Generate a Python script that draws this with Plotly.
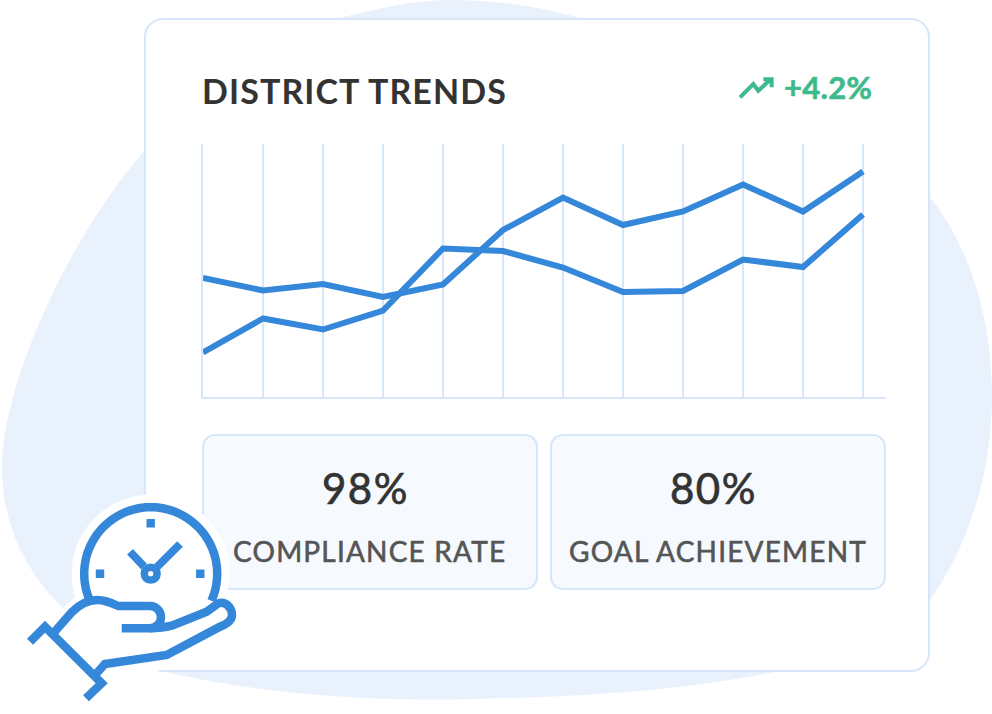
import math
import re
import plotly.graph_objects as go

W, H = 992, 714

# ---- data ----
periods = list(range(12))
series_a = [119.5, 107, 113.5, 100.5, 113, 167.5, 200, 172.5, 186, 213, 186, 226]
series_b = [45, 79, 68, 87, 149, 146.5, 130, 105.5, 106.5, 138, 130.5, 183]
headline = "DISTRICT TRENDS"
change_label = "+4.2%"
kpi_values = ["98%", "80%"]
kpi_labels = ["COMPLIANCE RATE", "GOAL ACHIEVEMENT"]

# ---- colours ----
BLUE = "#3487d9"
BLOB = "#e9f2fc"
EDGE = "#d7e6f8"
PANEL = "#f6fafe"
GREEN = "#3cba8c"
DARK = "#333333"
GREY = "#555555"


def P(d):
    """Convert a path written in page pixels to paper coordinates."""
    toks = re.findall(r"[MLCQZ]|-?\d+\.?\d*", d)
    out, is_x = [], True
    for t in toks:
        if t in "MLCQZ":
            out.append(t)
            is_x = True
        elif is_x:
            out.append(f"{float(t)/W:.5f}")
            is_x = False
        else:
            out.append(f"{1-float(t)/H:.5f}")
            is_x = True
    s, i = "", 0
    while i < len(out):
        if out[i] in "MLCQZ":
            s += out[i]
            i += 1
        else:
            s += f"{out[i]},{out[i+1]} "
            i += 2
    return s.strip()


def rrect(x0, y0, x1, y1, r):
    k = r * 0.45
    return (f"M {x0+r} {y0} L {x1-r} {y0} C {x1-k} {y0} {x1} {y0+k} {x1} {y0+r} "
            f"L {x1} {y1-r} C {x1} {y1-k} {x1-k} {y1} {x1-r} {y1} "
            f"L {x0+r} {y1} C {x0+k} {y1} {x0} {y1-k} {x0} {y1-r} "
            f"L {x0} {y0+r} C {x0} {y0+k} {x0+k} {y0} {x0+r} {y0} Z")


def circle(cx, cy, r):
    k = r * 0.5523
    return (f"M {cx+r} {cy} C {cx+r} {cy+k} {cx+k} {cy+r} {cx} {cy+r} "
            f"C {cx-k} {cy+r} {cx-r} {cy+k} {cx-r} {cy} "
            f"C {cx-r} {cy-k} {cx-k} {cy-r} {cx} {cy-r} "
            f"C {cx+k} {cy-r} {cx+r} {cy-k} {cx+r} {cy} Z")


def arc(cx, cy, r, a0, a1, n=40):
    pts = []
    for i in range(n + 1):
        a = math.radians(a0 + (a1 - a0) * i / n)
        pts.append((cx + r * math.cos(a), cy + r * math.sin(a)))
    return f"M {pts[0][0]:.2f} {pts[0][1]:.2f} " + " ".join(f"L {x:.2f} {y:.2f}" for x, y in pts[1:])


shapes = []


def add(d, fill=None, line=None, width=0, layer="below"):
    s = dict(type="path", xref="paper", yref="paper", path=P(d), layer=layer,
             line=dict(color=line or "rgba(0,0,0,0)", width=width))
    if fill:
        s["fillcolor"] = fill
    shapes.append(s)


# backdrop
add("M 450 0 C 500 0 545 8 580 18 C 700 50 860 110 928 195 C 970 245 992 320 992 395 "
    "C 992 480 965 550 930 600 C 890 640 830 662 783 670 C 700 688 600 696 500 698 "
    "C 420 702 280 700 157 670 C 120 655 88 635 60 605 C 30 575 2 530 2 467 "
    "C 2 385 68 238 145 150 C 200 90 270 38 340 18 C 380 8 415 0 450 0 Z",
    fill=BLOB)
# card and KPI panels
add(rrect(145, 19, 929, 671, 18), fill="#ffffff", line=EDGE, width=2)
add(rrect(203, 435, 537, 589, 12), fill=PANEL, line=EDGE, width=2)
add(rrect(551, 435, 885, 589, 12), fill=PANEL, line=EDGE, width=2)

# trend arrow
add("M 740 97.3 L 753.3 84 L 758.3 90.7 L 770.7 79.3", line=GREEN, width=4, layer="above")
add("M 763.3 79.3 L 771.7 79.3 L 771.7 87.3", line=GREEN, width=4, layer="above")

# icon: white halo
CX, CY = 150.7, 573.7
add(circle(CX, CY, 79), fill="#ffffff", layer="above")
hand = ("M 53.3 633.3 L 72 612 C 80 604 88 600 97 600 C 105 600 112 603 118.3 606 L 150 606 "
        "C 156 606 161 611 161 617 C 161 623 156 628.3 150 628.3 L 121.7 628.3")
palm = ("M 150 628.3 C 158 628.3 165 627.5 171.7 625.7 L 206.7 611.7 L 218.3 603.3 "
        "C 226 601 232 608 232 615 C 232 620 227 624 220 626.7 L 166.7 655 L 105 664 L 95 675")
add("M 45 626.7 L 72 610 C 80 600 90 596 100 596 L 150 602 L 215 600 C 230 598 238 606 238 616 "
    "C 238 624 230 630 222 634 L 168 662 L 110 672 L 101.7 683.3 Z",
    fill="#ffffff", line="#ffffff", width=14, layer="above")
# icon: clock
add(arc(CX, CY, 66.5, 156, 384, 60), line=BLUE, width=8.5, layer="above")
for tx, ty in [(150.7, 523.3), (100, 573.7), (200.3, 573.7)]:
    add(rrect(tx - 4.2, ty - 4.2, tx + 4.2, ty + 4.2, 0.01), fill=BLUE, layer="above")
add("M 130 551.7 L 144 566.5", line=BLUE, width=8, layer="above")
add("M 180 544 L 157 567", line=BLUE, width=8, layer="above")
add(circle(CX, CY, 6.4), fill="#ffffff", line=BLUE, width=7.5, layer="above")
# icon: hand
add("M 88 598 C 90 602 104 600 118 606 L 121 606 L 160 612 L 172 625 L 218 603 L 232 615 L 167 655 "
    "L 105 664 L 53 633 Z", fill="#ffffff", layer="above")
add(hand, line=BLUE, width=8.5, layer="above")
add(palm, line=BLUE, width=8.5, layer="above")
add("M 30 641.7 L 45 626.7 L 101.7 683.3 L 86 698.3", line=BLUE, width=8.5, layer="above")

fig = go.Figure()
for name, vals in [("Series A", series_a), ("Series B", series_b)]:
    fig.add_trace(go.Scatter(x=periods, y=vals, name=name, mode="lines",
                             line=dict(color=BLUE, width=6, shape="linear"),
                             cliponaxis=False, showlegend=False, hoverinfo="skip"))


def txt(x, y, text, size, color, anchor="left", weight=400, spacing=0.0, stroke=0.0):
    style = f"letter-spacing:{spacing}px;"
    if stroke:
        style += f"stroke:{color};stroke-width:{stroke}px;"
    return dict(xref="paper", yref="paper", x=x / W, y=1 - y / H,
                text=f'<span style="{style}">{text}</span>', showarrow=False,
                xanchor=anchor, yanchor="middle", align=anchor,
                font=dict(family="Lato", size=size, color=color, weight=weight))


annotations = [
    txt(200, 90.5, headline, 34, DARK, weight=700, spacing=1.1),
    txt(874, 87, change_label, 31, GREEN, "right", weight=700, spacing=0.3, stroke=0.6),
    txt(365, 488, kpi_values[0], 42, DARK, "center", spacing=1.5, stroke=0.7),
    txt(713, 488, kpi_values[1], 42, DARK, "center", spacing=1.5, stroke=0.7),
    txt(369.5, 551, kpi_labels[0], 28, GREY, "center", spacing=1.2, stroke=0.6),
    txt(717.5, 551, kpi_labels[1], 28, GREY, "center", spacing=1.2, stroke=0.6),
]

fig.update_layout(
    width=W, height=H, autosize=False,
    margin=dict(l=0, r=0, t=0, b=0, pad=0),
    paper_bgcolor="#ffffff", plot_bgcolor="rgba(0,0,0,0)",
    shapes=shapes, annotations=annotations, showlegend=False,
    xaxis=dict(domain=[203 / W, 886 / W], range=[0, 683 / 60], dtick=1, tick0=0,
               showgrid=True, gridcolor=EDGE, gridwidth=2, zeroline=False,
               showline=True, linecolor=EDGE, linewidth=2, showticklabels=False, ticks=""),
    yaxis=dict(domain=[(H - 396.5) / H, (H - 143.5) / H], range=[1, 254], showgrid=False,
               zeroline=False, showline=True, linecolor=EDGE, linewidth=2,
               showticklabels=False, ticks=""),
)

fig.write_html("out.html", config={"displayModeBar": False},
               post_script="document.body.style.margin='0';")
